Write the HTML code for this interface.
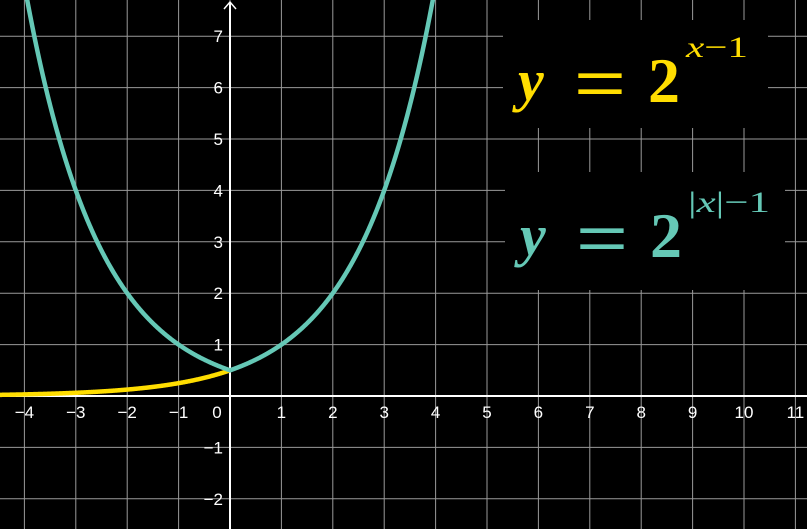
<!DOCTYPE html>
<html><head><meta charset="utf-8"><style>
html,body{margin:0;padding:0;background:#000;width:807px;height:529px;overflow:hidden}
svg{display:block}
.tk{font-family:"Liberation Sans",sans-serif;font-size:17px;fill:#fff}
.lab{font-family:"Liberation Serif",serif;font-style:italic;font-weight:bold}
</style></head><body>
<svg id="c" width="807" height="529"></svg>
<script>
const xTicks=[-4,-3,-2,-1,1,2,3,4,5,6,7,8,9,10,11];
const yTicks=[-2,-1,1,2,3,4,5,6,7];
const base=2;
const shift=-1;
const X0=230,Y0=396,S=51.4;
const sx=v=>X0+v*S, sy=v=>Y0-v*S;
const NS="http://www.w3.org/2000/svg";
const svg=document.getElementById('c');
function mk(t,a,p){const e=document.createElementNS(NS,t);for(const k in a)e.setAttribute(k,a[k]);(p||svg).appendChild(e);return e;}
for(let i=-5;i<=12;i++){const l=mk('line',{x1:sx(i),x2:sx(i),y1:0,y2:529,stroke:'#9a9a9a','stroke-width':1});

}
for(let j=-3;j<=8;j++){const l=mk('line',{x1:0,x2:807,y1:sy(j),y2:sy(j),stroke:'#9a9a9a','stroke-width':1});

}
const xa=mk('line',{x1:0,x2:807,y1:Y0,y2:Y0,stroke:'#fff','stroke-width':2});


const ya=mk('line',{x1:X0,x2:X0,y1:2,y2:529,stroke:'#fff','stroke-width':2});


const ar=mk('path',{d:`M${X0-6} 9 L${X0} 2 L${X0+6} 9`,stroke:'#fff','stroke-width':1.5,fill:'none'});


xTicks.forEach(v=>{const t=mk('text',{x:sx(v),y:Y0+22,'text-anchor':'middle',class:'tk'});t.textContent=v<0?'\u2212'+(-v):v;

});
const z=mk('text',{x:X0-13,y:Y0+22,'text-anchor':'middle',class:'tk'});z.textContent='0';


yTicks.forEach(v=>{const t=mk('text',{x:X0-7,y:sy(v)+6,'text-anchor':'end',class:'tk'});t.textContent=v<0?'\u2212'+(-v):v;

});
function path(f,a,b){let d='';for(let x=a;x<=b+1e-9;x+=0.01){const y=f(x);d+=(d?'L':'M')+sx(x).toFixed(2)+' '+sy(y).toFixed(2);}return d;}
const yc=mk('path',{d:path(x=>Math.pow(base,x+shift),-4.6,0),stroke:'#ffdd00','stroke-width':4.5,fill:'none'});


const tc=mk('path',{d:path(x=>Math.pow(base,Math.abs(x)+shift),-4.1,4.1),stroke:'#65c8b6','stroke-width':4.5,fill:'none'});


const b1=mk('rect',{x:503,y:20,width:265,height:108,fill:'#000'});


const b2=mk('rect',{x:505,y:172,width:280,height:118,fill:'#000'});


function label(x,y,col,exp,expLen,name){const g=mk('g',{fill:col});


const a=mk('text',{x:x,y:y-2,class:'lab','font-size':58},g);a.textContent='y';
const b=mk('text',{x:x+56,y:y+3,'font-family':'Liberation Sans,sans-serif','font-size':64,textLength:52,lengthAdjust:'spacingAndGlyphs'},g);b.textContent='=';
const c=mk('text',{x:x+130,y:y,'font-family':'Liberation Serif,serif','font-weight':'bold','font-size':64},g);c.textContent='2';
const d=mk('text',{x:x+168,y:y-45,'font-family':'Liberation Serif,serif','font-size':30,textLength:expLen,lengthAdjust:'spacingAndGlyphs'},g);d.innerHTML=exp;}
label(518,102,'#ffdd00','<tspan font-style="italic">x</tspan>\u22121',62,'legend-yellow');
label(520,257,'#65c8b6','|<tspan font-style="italic">x</tspan>|\u22121',82,'legend-teal');
</script>
</body></html>
